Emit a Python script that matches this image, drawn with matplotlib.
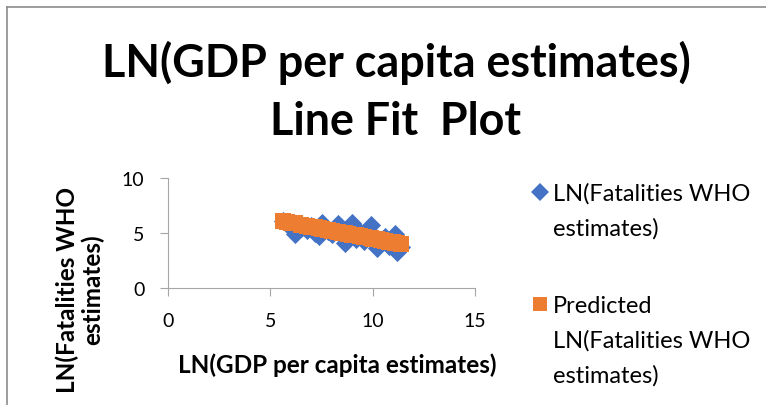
import matplotlib
matplotlib.use('Agg')
import matplotlib.pyplot as plt
from matplotlib.lines import Line2D

plt.rcParams['font.family'] = ['Lato', 'DejaVu Sans']

# Datos
gdp_ln = [5.6, 5.8, 6.0, 6.2, 6.5, 6.8, 7.0, 7.2, 7.4, 7.5, 7.8, 8.0, 8.3, 8.5, 8.65,
          8.8, 9.0, 9.2, 9.4, 9.6, 9.9, 10.0, 10.2, 10.4, 10.6, 10.8, 11.0, 11.1, 11.2, 11.4]
fatal_ln = [6.1, 5.8, 5.6, 4.95, 5.5, 5.3, 5.6, 5.0, 4.75, 5.9, 5.2, 4.9, 5.8, 5.2, 4.1,
            5.5, 5.95, 4.5, 5.1, 4.3, 5.75, 4.8, 3.65, 4.2, 4.6, 3.8, 4.4, 4.9, 3.25, 3.7]
pred_ln = [6.08, 6.01, 5.94, 5.87, 5.76, 5.65, 5.58, 5.51, 5.44, 5.40, 5.29, 5.22, 5.11, 5.04, 4.99,
           4.93, 4.86, 4.79, 4.72, 4.64, 4.54, 4.50, 4.43, 4.36, 4.28, 4.21, 4.14, 4.10, 4.07, 3.99]
x_ticks = [0, 5, 10, 15]
y_ticks = [0, 5, 10]
titulo = ['LN(GDP per capita estimates)', 'Line Fit  Plot']
leyenda_obs = ['LN(Fatalities WHO', 'estimates)']
leyenda_pred = ['Predicted', 'LN(Fatalities WHO', 'estimates)']

azul = '#4472C4'
naranja = '#ED7D31'
gris = '#A6A6A6'

W, H = 766, 406
fig = plt.figure(figsize=(7.66, 4.06), dpi=100)
ax = fig.add_axes([168 / W, 1 - 289 / H, 307 / W, 110 / H])

ax.scatter(gdp_ln, fatal_ln, marker='D', s=95, color=azul, linewidths=0, zorder=2)
ax.scatter(gdp_ln, pred_ln, marker='s', s=118, color=naranja, linewidths=0, zorder=3)

ax.set_xlim(0, 15)
ax.set_ylim(0, 10)
ax.set_xticks(x_ticks)
ax.set_yticks(y_ticks)
ax.tick_params(direction='out', length=6, color=gris, labelsize=14, pad=11)
for lado in ['top', 'right']:
    ax.spines[lado].set_visible(False)
for lado in ['left', 'bottom']:
    ax.spines[lado].set_color(gris)

# etiquetas de ejes
fig.text(337.5 / W, 1 - 373 / H, 'LN(GDP per capita estimates)', ha='center', va='baseline',
         fontsize=17.5, fontweight='bold')
fig.text(80 / W, 1 - 290 / H, 'LN(Fatalities WHO\nestimates)', ha='center', va='center',
         rotation=90, fontsize=17.5, fontweight='bold', linespacing=1.1)

# titulo
fig.text(396 / W, 1 - 77 / H, titulo[0], ha='center', va='baseline', fontsize=32.3, fontweight='bold')
fig.text(396 / W, 1 - 135 / H, titulo[1], ha='center', va='baseline', fontsize=32.3, fontweight='bold')

# leyenda
fig.add_artist(Line2D([539.5 / W], [1 - 193 / H], marker='D', markersize=9.5, color=azul, lw=0, mew=0))
fig.add_artist(Line2D([539.5 / W], [1 - 305 / H], marker='s', markersize=10.5, color=naranja, lw=0, mew=0))
for i, linea in enumerate(leyenda_obs):
    fig.text(553 / W, 1 - (201 + 35 * i) / H, linea, ha='left', va='baseline', fontsize=17)
for i, linea in enumerate(leyenda_pred):
    fig.text(553 / W, 1 - (313 + 35 * i) / H, linea, ha='left', va='baseline', fontsize=17)

# borde del area del grafico
fig.add_artist(Line2D([7 / W, 1], [1 - 8 / H, 1 - 8 / H], color='#8C8C8C', lw=1.2))
fig.add_artist(Line2D([7 / W, 7 / W], [0, 1 - 8 / H], color='#8C8C8C', lw=1.2))

fig.savefig('out.png', dpi=100)
